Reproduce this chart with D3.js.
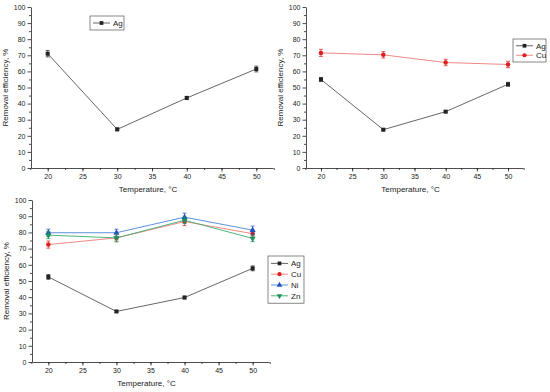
<!DOCTYPE html>
<html>
<head>
<meta charset="utf-8">
<script src="https://cdn.jsdelivr.net/npm/d3@7"></script>
<style>
  body { margin: 0; background: #fff; }
  svg { display: block; font-family: "Liberation Sans", Arial, sans-serif; }
  .tick text { font-size: 7px; fill: #222; }
  .domain, .tick line { stroke: #222; stroke-width: 0.8; }
  .title { font-size: 8px; fill: #222; }
</style>
</head>
<body>
<svg id="chart" width="550" height="392"></svg>
<script>
// Data.
const temps = [20, 30, 40, 50];
const xTicks = [20, 25, 30, 35, 40, 45, 50];
const yTicks = [0, 10, 20, 30, 40, 50, 60, 70, 80, 90, 100];

const agA = [71, 24, 43.5, 61.5];
const agAErr = [2, 0.8, 1, 1.8];

const agB = [55, 23.8, 35, 52];
const agBErr = [1.2, 0.7, 0.7, 1.2];
const cuB = [71.5, 70.3, 65.5, 64.3];
const cuBErr = [2.2, 2, 2, 2];

const agC = [52.5, 31.2, 39.8, 57.8];
const agCErr = [1.5, 0.6, 0.8, 1.5];
const cuC = [72.5, 76.6, 86.7, 79.2];
const cuCErr = [2.2, 2, 2.5, 2];
const niC = [79.8, 79.8, 89.4, 81.4];
const niCErr = [2.2, 2.2, 2.5, 2.5];
const znC = [78.3, 76.6, 87.5, 76.3];
const znCErr = [2.2, 2.5, 2, 2];

const styles = {
  Ag: { line: "#555", fill: "#222", symbol: d3.symbolSquare, rot: 0 },
  Cu: { line: "#f07a7a", fill: "#e01e1e", symbol: d3.symbolCircle, rot: 0 },
  Ni: { line: "#4a86d8", fill: "#1f4fc0", symbol: d3.symbolTriangle, rot: 0 },
  Zn: { line: "#3aae6e", fill: "#1a945a", symbol: d3.symbolTriangle, rot: 180 }
};

const svg = d3.select("#chart");

const drawPanel = ({ left, right, top, bottom, series, legend }) => {
  const g = svg.append("g");
  const x = d3.scaleLinear().domain([17.6, 52.4]).range([left, right]);
  const y = d3.scaleLinear().domain([0, 100]).range([bottom, top]);

  // Axes with minor ticks.
  g.append("g")
    .attr("transform", `translate(0,${bottom})`)
    .call(d3.axisBottom(x).tickValues(d3.range(17.5, 52.6, 2.5)).tickSize(2).tickFormat(""))
    .call(a => a.select(".domain").remove());
  g.append("g")
    .attr("transform", `translate(0,${bottom})`)
    .call(d3.axisBottom(x).tickValues(xTicks).tickSize(3.5).tickPadding(3).tickSizeOuter(0));
  g.append("g")
    .attr("transform", `translate(${left},0)`)
    .call(d3.axisLeft(y).tickValues(d3.range(5, 100, 10)).tickSize(2).tickFormat(""))
    .call(a => a.select(".domain").remove());
  g.append("g")
    .attr("transform", `translate(${left},0)`)
    .call(d3.axisLeft(y).tickValues(yTicks).tickSize(3.5).tickPadding(2).tickSizeOuter(0));

  g.append("text").attr("class", "title")
    .attr("x", (left + right) / 2 - 4).attr("y", bottom + 24)
    .attr("text-anchor", "middle").text("Temperature, °C");
  g.append("text").attr("class", "title")
    .attr("transform", `translate(${left - 23},${(top + bottom) / 2}) rotate(-90)`)
    .attr("text-anchor", "middle").text("Removal efficiency, %");

  const line = d3.line().x(d => x(d[0])).y(d => y(d[1]));

  series.forEach(({ name, values, errs }) => {
    const st = styles[name];
    const pts = temps.map((t, i) => [t, values[i], errs[i]]);
    g.append("path").datum(pts).attr("d", line)
      .attr("fill", "none").attr("stroke", st.line).attr("stroke-width", 0.9);
    pts.forEach(([t, v, e]) => {
      const cx = x(t);
      g.append("path")
        .attr("d", `M${cx},${y(v - e)}V${y(v + e)}M${cx - 2},${y(v - e)}H${cx + 2}M${cx - 2},${y(v + e)}H${cx + 2}`)
        .attr("stroke", st.fill).attr("stroke-width", 0.7).attr("fill", "none");
      g.append("path")
        .attr("d", d3.symbol(st.symbol, 16)())
        .attr("transform", `translate(${cx},${y(v)}) rotate(${st.rot})`)
        .attr("fill", st.fill);
    });
  });

  // Legend.
  const { lx, ly, w, rowH } = legend;
  g.append("rect")
    .attr("x", lx).attr("y", ly).attr("width", w).attr("height", rowH * series.length + 4)
    .attr("fill", "#fff").attr("stroke", "#555").attr("stroke-width", 0.7);
  series.forEach(({ name }, i) => {
    const st = styles[name];
    const cy = ly + 2 + rowH * (i + 0.5);
    g.append("line").attr("x1", lx + 3).attr("x2", lx + 20).attr("y1", cy).attr("y2", cy)
      .attr("stroke", st.line).attr("stroke-width", 0.9);
    g.append("path").attr("d", d3.symbol(st.symbol, 14)())
      .attr("transform", `translate(${lx + 11.5},${cy}) rotate(${st.rot})`)
      .attr("fill", st.fill);
    g.append("text").attr("class", "title")
      .attr("x", lx + 23).attr("y", cy + 3).text(name);
  });
};

drawPanel({
  left: 31, right: 273, top: 7, bottom: 168,
  series: [{ name: "Ag", values: agA, errs: agAErr }],
  legend: { lx: 90, ly: 16, w: 34, rowH: 10 }
});

drawPanel({
  left: 306, right: 523, top: 7, bottom: 168,
  series: [
    { name: "Ag", values: agB, errs: agBErr },
    { name: "Cu", values: cuB, errs: cuBErr }
  ],
  legend: { lx: 513, ly: 39, w: 33, rowH: 9.5 }
});

drawPanel({
  left: 32, right: 269, top: 200, bottom: 362,
  series: [
    { name: "Ag", values: agC, errs: agCErr },
    { name: "Cu", values: cuC, errs: cuCErr },
    { name: "Ni", values: niC, errs: niCErr },
    { name: "Zn", values: znC, errs: znCErr }
  ],
  legend: { lx: 268, ly: 256, w: 36, rowH: 10.8 }
});
</script>
</body>
</html>
